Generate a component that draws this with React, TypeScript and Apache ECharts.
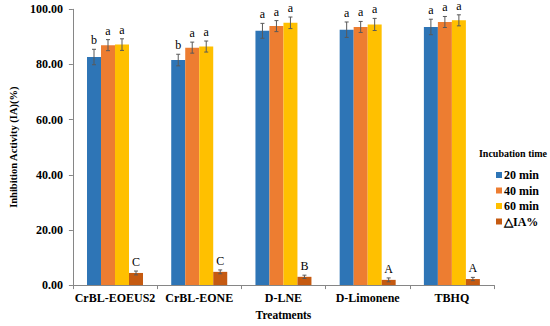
import React, { useEffect, useRef } from "react";
import * as echarts from "echarts";

const categories = ["CrBL-EOEUS2", "CrBL-EONE", "D-LNE", "D-Limonene", "TBHQ"];
const seriesNames = ["20 min", "40 min", "60 min", "△IA%"];
const v20 = [82.7, 81.6, 92.2, 92.6, 93.6];
const v40 = [87.0, 86.1, 93.9, 93.6, 95.4];
const v60 = [87.2, 86.5, 95.1, 94.5, 96.0];
const vDelta = [4.4, 4.8, 3.0, 1.9, 2.2];
const e20 = [2.8, 2.1, 2.7, 2.8, 2.8];
const e40 = [2.0, 2.0, 2.0, 2.0, 2.0];
const e60 = [2.1, 2.0, 2.1, 2.2, 2.0];
const eDelta = [0.7, 0.7, 0.6, 0.7, 0.6];
const l20 = ["b", "b", "a", "a", "a"];
const l40 = ["a", "a", "a", "a", "a"];
const l60 = ["a", "a", "a", "a", "a"];
const lDelta = ["C", "C", "B", "A", "A"];
const yTicks = [0, 20, 40, 60, 80, 100];

const colors = ["#2E75B6", "#ED7D31", "#FFC000", "#C55A11"];
const FONT = "'Liberation Serif', 'Times New Roman', serif";
const BAR_W = 14;

export default function App() {
  const ref = useRef<HTMLDivElement>(null);
  useEffect(() => {
    if (!ref.current) return;
    const chart = echarts.init(ref.current, null, { renderer: "svg" });
    const values = [v20, v40, v60, vDelta];
    const errs = [e20, e40, e60, eDelta];
    const letters = [l20, l40, l60, lDelta];

    const barSeries = values.map((vals, si) => ({
      name: seriesNames[si],
      type: "bar",
      data: vals,
      barWidth: BAR_W,
      barGap: "0%",
      itemStyle: { color: colors[si] },
    }));

    const errSeries = values.map((vals, si) => ({
      type: "custom",
      name: "err" + si,
      z: 5,
      data: vals.map((v, i) => [i, v, errs[si][i]]),
      encode: { x: 0, y: 1 },
      renderItem: (params: any, api: any) => {
        const idx = api.value(0);
        const v = api.value(1);
        const e = api.value(2);
        const x = api.coord([idx, v])[0] + (si - 1.5) * BAR_W;
        const yTop = api.coord([idx, v + e])[1];
        const yBot = api.coord([idx, v - e])[1];
        const st = { stroke: "#595959", lineWidth: 1 };
        return {
          type: "group",
          children: [
            { type: "line", shape: { x1: x, y1: yTop, x2: x, y2: yBot }, style: st },
            { type: "line", shape: { x1: x - 2, y1: yTop, x2: x + 2, y2: yTop }, style: st },
            { type: "line", shape: { x1: x - 2, y1: yBot, x2: x + 2, y2: yBot }, style: st },
            {
              type: "text",
              x: x,
              y: yTop - 3,
              style: {
                text: letters[si][params.dataIndex],
                align: "center",
                verticalAlign: "bottom",
                fontFamily: FONT,
                fontSize: 12,
                fill: "#000",
              },
            },
          ],
        };
      },
    }));

    chart.setOption({
      animation: false,
      grid: { left: 57, right: 56, top: 9.3, bottom: 36.5, containLabel: false },
      graphic: [
        {
          type: "text",
          x: 513,
          y: 153,
          style: {
            text: "Incubation time",
            align: "center",
            verticalAlign: "middle",
            fontFamily: FONT,
            fontSize: 10,
            fontWeight: "bold",
            fill: "#000",
          },
        },
      ],
      legend: {
        data: seriesNames,
        orient: "vertical",
        left: 491,
        top: 164,
        itemWidth: 6,
        itemHeight: 6,
        itemGap: 3.5,
        icon: "rect",
        textStyle: { fontFamily: FONT, fontSize: 12, fontWeight: "bold", color: "#000", padding: [0, 0, 0, -3] },
      },
      xAxis: {
        type: "category",
        data: categories,
        name: "Treatments",
        nameLocation: "middle",
        nameGap: 21,
        nameTextStyle: { fontFamily: FONT, fontSize: 11.5, fontWeight: "bold", color: "#000" },
        axisLine: { lineStyle: { color: "#868686" } },
        axisTick: { show: true, length: 4, lineStyle: { color: "#868686" } },
        axisLabel: { interval: 0, fontFamily: FONT, fontSize: 12, fontWeight: "bold", color: "#000", margin: 7 },
      },
      yAxis: {
        type: "value",
        min: yTicks[0],
        max: yTicks[yTicks.length - 1],
        interval: 20,
        name: "Inhibition Activity (IA)(%)",
        nameLocation: "middle",
        nameGap: 41,
        nameTextStyle: { fontFamily: FONT, fontSize: 10.5, fontWeight: "bold", color: "#000" },
        axisLine: { show: true, lineStyle: { color: "#868686" } },
        axisTick: { show: true, length: 4, lineStyle: { color: "#868686" } },
        splitLine: { show: false },
        axisLabel: {
          fontFamily: FONT,
          fontSize: 12,
          fontWeight: "bold",
          color: "#000",
          margin: 10,
          formatter: (v: number) => v.toFixed(2),
        },
      },
      series: [...barSeries, ...errSeries],
    });
    return () => chart.dispose();
  }, []);
  return <div ref={ref} style={{ width: 550, height: 326, position: "absolute", left: 0, top: 0 }} />;
}
